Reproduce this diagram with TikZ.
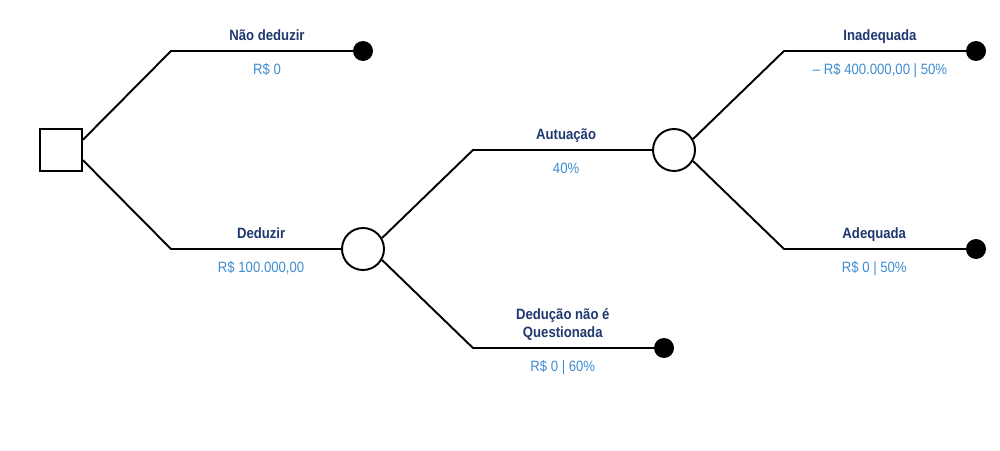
\documentclass[tikz,border=0pt]{standalone}
\usepackage{fontspec}
\setmainfont{Liberation Sans}
\newfontfamily\narrowfont[FakeStretch=0.88]{Liberation Sans}
\usepackage{tikz}
\usetikzlibrary{positioning}
\definecolor{navy}{RGB}{31,56,110}
\definecolor{lightblue}{RGB}{61,141,211}

\begin{document}
\begin{tikzpicture}[
    branch/.style={line width=1.1pt, line join=round},
    decision/.style={draw, line width=1.1pt, fill=white, minimum size=0.84cm, inner sep=0},
    chance/.style={draw, circle, line width=1.1pt, fill=white, minimum size=0.84cm, inner sep=0},
    terminal/.style={circle, fill=black, minimum size=0.4cm, inner sep=0},
    title/.style={above=0.19cm, inner sep=0, text depth=0pt, text=navy, align=center,
                  font=\narrowfont\fontsize{8.5}{10.2}\selectfont\bfseries},
    value/.style={below=0.23cm, inner sep=0, text height=6.1pt, text=lightblue,
                  font=\narrowfont\fontsize{8.5}{10.2}\selectfont}]
    \useasboundingbox (0,0) rectangle (20,9);
    % decision and chance nodes
    \node[decision] (sq) at (1.22,6) {};
    \node[chance] (c1) at (7.26,4.02) {};
    \node[chance] (c2) at (13.48,6) {};
    % end points
    \node[terminal] (d1) at (7.26,7.98) {};
    \node[terminal] (d2) at (19.52,7.98) {};
    \node[terminal] (d3) at (19.52,4.02) {};
    \node[terminal] (d4) at (13.28,2.04) {};
    % kinks of the branches
    \coordinate (k1) at (3.42,7.98);
    \coordinate (k2) at (3.42,4.02);
    \coordinate (k3) at (9.46,6);
    \coordinate (k4) at (9.46,2.04);
    \coordinate (k5) at (15.68,7.98);
    \coordinate (k6) at (15.68,4.02);
    % first decision
    \draw[branch] (sq.25) -- (k1) -- node[title]{Não deduzir} node[value]{R\$ 0} (d1.center);
    \draw[branch] (sq.-25) -- (k2) -- node[pos=0.53,title]{Deduzir} node[pos=0.53,value]{R\$ 100.000,00} (c1.west);
    % is the deduction questioned
    \draw[branch] (c1.30) -- (k3) -- node[pos=0.52,title]{Autuação} node[pos=0.52,value]{40\%} (c2.west);
    \draw[branch] (c1.-30) -- (k4) -- node[pos=0.47,title]{Dedução não é\\Questionada} node[pos=0.47,value]{R\$ 0 | 60\%} (d4.center);
    % outcome of the assessment
    \draw[branch] (c2.30) -- (k5) -- node[title]{Inadequada} node[value]{– R\$ 400.000,00 | 50\%} (d2.center);
    \draw[branch] (c2.-30) -- (k6) -- node[pos=0.47,title]{Adequada} node[pos=0.47,value]{R\$ 0 | 50\%} (d3.center);
\end{tikzpicture}
\end{document}
